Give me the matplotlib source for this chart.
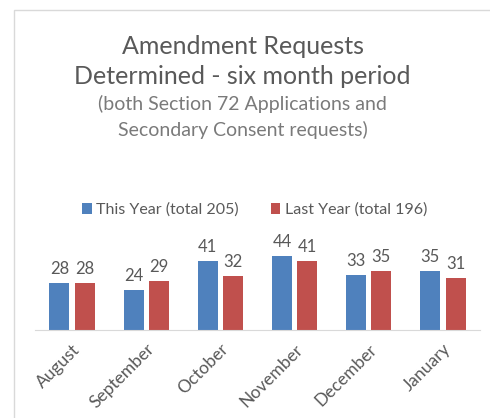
import matplotlib.pyplot as plt
import numpy as np
from matplotlib.patches import Rectangle

plt.rcParams['font.family'] = ['Lato', 'DejaVu Sans']

months = ['August', 'September', 'October', 'November', 'December', 'January']
this_year = [28, 24, 41, 44, 33, 35]
last_year = [28, 29, 32, 41, 35, 31]
this_label = 'This Year (total 205)'
last_label = 'Last Year (total 196)'

blue = '#4F81BD'
red = '#C0504D'
grey = '#595959'
light_grey = '#7a7a7a'

fig = plt.figure(figsize=(4.9, 4.18), dpi=100)

# light chart frame
fig.patches.append(Rectangle((14/490, -0.1), 1.0, 1 - 10/418 + 0.1, transform=fig.transFigure,
                             fill=False, edgecolor='#d9d9d9', linewidth=1))

fig.text(0.495, 1 - 46/418, 'Amendment Requests', ha='center', va='center', fontsize=18, color=grey)
fig.text(0.495, 1 - 76/418, 'Determined - six month period', ha='center', va='center', fontsize=18, color=grey)
fig.text(0.495, 1 - 104/418, '(both Section 72 Applications and', ha='center', va='center', fontsize=14, color=light_grey)
fig.text(0.495, 1 - 130/418, 'Secondary Consent requests)', ha='center', va='center', fontsize=14, color=light_grey)

ax = fig.add_axes([35/490, 88/418, 445/490, 84/418])
x = np.arange(len(months))
w = 0.27
b1 = ax.bar(x - 0.17, this_year, w, color=blue, label=this_label)
b2 = ax.bar(x + 0.17, last_year, w, color=red, label=last_label)
for bars in (b1, b2):
    for r in bars:
        ax.text(r.get_x() + r.get_width()/2, r.get_height() + 3.5, str(int(r.get_height())),
                ha='center', va='bottom', fontsize=12, color=grey, clip_on=False)

ax.set_xlim(-0.5, 5.5)
ax.set_ylim(0, 50)
ax.set_yticks([])
ax.set_xticks(x)
ax.set_xticklabels(months, rotation=45, ha='right', rotation_mode='anchor', fontsize=12.5, color=grey)
ax.tick_params(axis='x', length=0, pad=8)
for s in ['top', 'right', 'left']:
    ax.spines[s].set_visible(False)
ax.spines['bottom'].set_color('#d9d9d9')

fig.legend(loc='center', bbox_to_anchor=(0.52, 1 - 210/418), ncol=2, frameon=False,
           fontsize=11.5, handlelength=0.6, handleheight=0.6, handletextpad=0.3, columnspacing=2.0,
           labelcolor=grey)

fig.savefig('out.png', dpi=100, facecolor='white')
